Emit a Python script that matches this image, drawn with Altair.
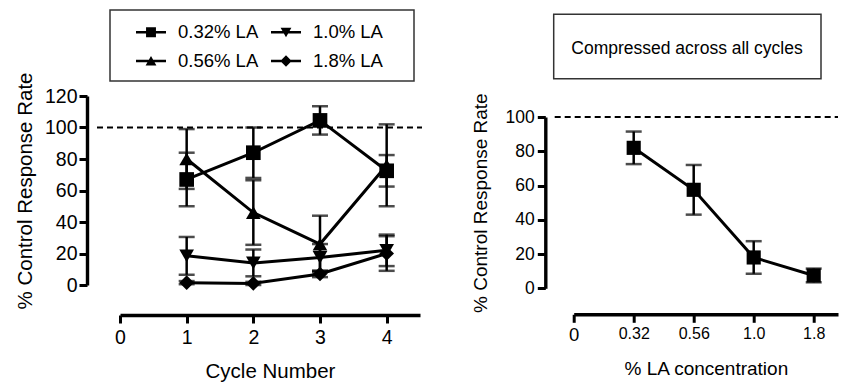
import altair as alt
import pandas as pd

# ---------------- data ----------------
cycles = [1, 2, 3, 4]
series_names = ["0.32% LA", "0.56% LA", "1.0% LA", "1.8% LA"]
series_shapes = ["square", "triangle-up", "triangle-down", "diamond"]

mean_032 = [67, 84, 104.5, 72.5]
sem_032 = [17, 16, 9, 10]
mean_056 = [80, 46, 26, 76]
sem_056 = [19, 20.5, 18, 26]
mean_100 = [18.5, 14, 17.5, 22]
sem_100 = [12, 8.5, 8.5, 10]
mean_180 = [1.5, 1, 7, 20]
sem_180 = [1, 1, 2, 11]

cycle_ticks = [0, 1, 2, 3, 4]
left_y_ticks = [0, 20, 40, 60, 80, 100, 120]

conc_labels = ["0.32", "0.56", "1.0", "1.8"]
conc_mean = [82, 57.5, 18, 7.5]
conc_sem = [9.5, 14.5, 9.5, 4]
conc_tick_labels = ["0"] + conc_labels
right_y_ticks = [0, 20, 40, 60, 80, 100]

control_level = 100
y_title = "% Control Response Rate"
left_x_title = "Cycle Number"
right_x_title = "% LA concentration"
box_text = "Compressed across all cycles"

FONT = "Liberation Sans"

# ---------------- tables ----------------
rows = []
for name, means, sems in zip(series_names,
                             [mean_032, mean_056, mean_100, mean_180],
                             [sem_032, sem_056, sem_100, sem_180]):
    for c, m, s in zip(cycles, means, sems):
        rows.append({"cycle": c, "series": name, "mean": m, "sem": s})
left_df = pd.DataFrame(rows)

right_df = pd.DataFrame({
    "pos": list(range(1, len(conc_labels) + 1)),
    "conc": conc_labels,
    "mean": conc_mean,
    "sem": conc_sem,
})
ref_df = pd.DataFrame({"y": [control_level]})
one_df = pd.DataFrame({"v": [0]})

# ---------------- left panel ----------------
LW, LH = 300, 189
lx_scale = alt.Scale(domain=[0, 4.5], nice=False, zero=False)
ly_scale = alt.Scale(domain=[0, 120], nice=False)

lx_axis = alt.Axis(values=cycle_ticks, offset=30, tickSize=8, tickWidth=3, domainWidth=3.4,
                   labelFontSize=19.5, labelPadding=5, title=left_x_title, titleFontSize=20.5,
                   titlePadding=15, format="d", labelFlush=False)
ly_axis = alt.Axis(values=left_y_ticks, offset=33, tickSize=8, tickWidth=3, domainWidth=3.4,
                   labelFontSize=19.5, labelPadding=2, title=y_title, titleFontSize=20.5,
                   titlePadding=9, labelFlush=False)

LX = lambda f: alt.X(f, scale=lx_scale, axis=lx_axis)
LY = lambda f: alt.Y(f, scale=ly_scale, axis=ly_axis)

lbase = alt.Chart(left_df).transform_calculate(
    lo="datum.mean - datum.sem", hi="datum.mean + datum.sem")

l_ref = alt.Chart(ref_df).mark_rule(color="black", strokeWidth=2, strokeDash=[6, 4]).encode(
    y=LY("y:Q"), x=alt.value(-23), x2=alt.value(LW + 2))

l_err = lbase.mark_rule(color="black", strokeWidth=2.5).encode(
    x=LX("cycle:Q"), y=LY("lo:Q"), y2="hi:Q", detail="series:N")

l_caps = lbase.transform_fold(["lo", "hi"], as_=["end", "val"]).mark_tick(
    color="black", orient="horizontal", size=16, thickness=2.5).encode(
    x=LX("cycle:Q"), y=LY("val:Q"), detail="series:N")

l_line = lbase.mark_line(color="black", strokeWidth=3).encode(
    x=LX("cycle:Q"), y=LY("mean:Q"), detail="series:N")

l_pts = lbase.mark_point(filled=True, color="black", opacity=1, size=215).encode(
    x=LX("cycle:Q"), y=LY("mean:Q"),
    shape=alt.Shape("series:N", scale=alt.Scale(domain=series_names, range=series_shapes),
                    legend=None))

# legend symbols: a line stub with the marker on it
bar = "M-1,-0.085H1V0.085H-1Z"
marker_paths = {
    "square": "M-0.33,-0.33H0.33V0.33H-0.33Z",
    "triangle-up": "M-0.36,0.3L0,-0.34L0.36,0.3Z",
    "triangle-down": "M0.36,-0.3L0,0.34L-0.36,-0.3Z",
    "diamond": "M-0.38,0L0,-0.38L0.38,0L0,0.38Z",
}
legend_paths = [bar + " " + marker_paths[s] for s in series_shapes]

l_legend = alt.Chart(left_df).transform_filter("false").mark_point(
    filled=True, color="black", opacity=1).encode(
    shape=alt.Shape("series:N", scale=alt.Scale(domain=series_names, range=legend_paths),
                    legend=alt.Legend(orient="none", legendX=16, legendY=-79, columns=2,
                                      title=None, symbolSize=900, labelFontSize=18.5,
                                      labelOffset=12, columnPadding=12, rowPadding=4,
                                      padding=0, symbolFillColor="black",
                                      symbolStrokeWidth=0, labelColor="black",
                                      labelFont=FONT, labelLimit=300)))

l_box = alt.Chart(one_df).mark_rect(fill="transparent", stroke="#333", strokeWidth=1.5).encode(
    x=alt.value(-10), x2=alt.value(294), y=alt.value(-86), y2=alt.value(-15))

left = alt.layer(l_ref, l_err, l_caps, l_line, l_pts, l_legend, l_box).resolve_scale(
    shape="independent").properties(width=LW, height=LH)

# ---------------- right panel ----------------
RW = 264.3
RH = 171.3
rx_scale = alt.Scale(domain=[0, RW / 60.0], nice=False, zero=False)
ry_scale = alt.Scale(domain=[0, 100], nice=False)

label_expr = "[" + ",".join("'" + t + "'" for t in conc_tick_labels) + "][datum.value]"
rx_axis = alt.Axis(values=list(range(len(conc_tick_labels))), offset=26, tickSize=8,
                   tickWidth=3, domainWidth=3.4,
                   labelFontSize={"condition": {"test": "datum.value == 0", "value": 18.5},
                                  "value": 16},
                   labelPadding=3, labelExpr=label_expr, title=right_x_title,
                   titleFontSize=19, titlePadding=16, labelFlush=False)
ry_axis = alt.Axis(values=right_y_ticks, offset=28.4, tickSize=8, tickWidth=3, domainWidth=3.4,
                   labelFontSize=17.5, labelPadding=3, title=y_title, titleFontSize=19,
                   titlePadding=15, labelFlush=False)

RX = lambda f: alt.X(f, scale=rx_scale, axis=rx_axis)
RY = lambda f: alt.Y(f, scale=ry_scale, axis=ry_axis)

rbase = alt.Chart(right_df).transform_calculate(
    lo="datum.mean - datum.sem", hi="datum.mean + datum.sem")

r_ref = alt.Chart(ref_df).mark_rule(color="black", strokeWidth=2, strokeDash=[6, 4]).encode(
    y=RY("y:Q"), x=alt.value(-19), x2=alt.value(RW))

r_err = rbase.mark_rule(color="black", strokeWidth=2.5).encode(
    x=RX("pos:Q"), y=RY("lo:Q"), y2="hi:Q")

r_caps = rbase.transform_fold(["lo", "hi"], as_=["end", "val"]).mark_tick(
    color="black", orient="horizontal", size=16, thickness=2.5).encode(
    x=RX("pos:Q"), y=RY("val:Q"))

r_line = rbase.mark_line(color="black", strokeWidth=3).encode(
    x=RX("pos:Q"), y=RY("mean:Q"))

r_pts = rbase.mark_point(filled=True, color="black", opacity=1, size=200, shape="square").encode(
    x=RX("pos:Q"), y=RY("mean:Q"))

r_box = alt.Chart(one_df).mark_rect(fill="transparent", stroke="#333", strokeWidth=1.5).encode(
    x=alt.value(-20), x2=alt.value(247.3), y=alt.value(-102.7), y2=alt.value(-38.3))

r_text = alt.Chart(one_df).mark_text(fontSize=17.5, font=FONT, color="black",
                                     align="center", baseline="middle").encode(
    x=alt.value(113.3), y=alt.value(-67.7), text=alt.value(box_text))

right = alt.layer(r_ref, r_err, r_caps, r_line, r_pts, r_box, r_text).properties(
    width=RW, height=RH)

spacer = alt.Chart(one_df).mark_point(opacity=0).properties(width=RW, height=21)

right_col = alt.vconcat(spacer, right, spacing=0, bounds="flush")

chart = alt.hconcat(left, right_col, spacing=153.7, bounds="flush").properties(
    padding={"left": 7, "top": 1, "right": 0, "bottom": 0}
).configure_view(stroke=None).configure_axis(
    domainColor="black", tickColor="black", labelColor="black", titleColor="black",
    labelFont=FONT, titleFont=FONT, titleFontWeight="normal", grid=False
).configure_text(font=FONT)

chart.save("out.html", embed_options={"renderer": "svg", "actions": False})
